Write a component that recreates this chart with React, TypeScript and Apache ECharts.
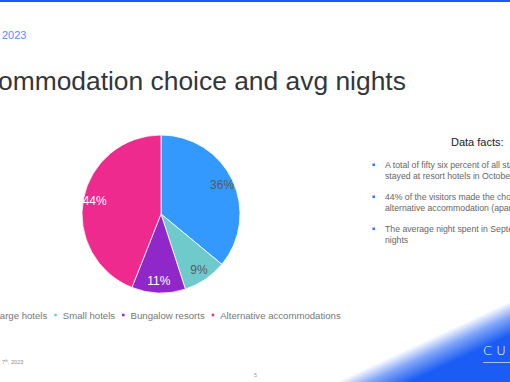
import React, { useEffect, useRef } from "react";
import * as echarts from "echarts";

const categories = ["Large hotels", "Small hotels", "Bungalow resorts", "Alternative accommodations"];
const shares = [36, 9, 11, 44];
const sliceColors = ["#3399FF", "#6FCBCB", "#9027C9", "#EE2A8E"];
const labelColors = ["#5a5a5a", "#5a5a5a", "#ffffff", "#ffffff"];

const titleText = "Accommodation choice and avg nights";
const factsTitle = "Data facts:";
const facts = [
  ["A total of fifty six percent of all stays", "stayed at resort hotels in October"],
  ["44% of the visitors made the choice of", "alternative accommodation (apartments)"],
  ["The average night spent in September was", "nights"],
];

const BLUE = "#1a5cf4";
const FONT = "'Liberation Sans', Arial, sans-serif";

export default function App() {
  const ref = useRef<HTMLDivElement>(null);
  useEffect(() => {
    if (!ref.current) return;
    const chart = echarts.init(ref.current, null, { renderer: "svg" });

    const factGraphics: any[] = [];
    const bulletY = [165, 197, 229];
    facts.forEach((lines, i) => {
      factGraphics.push({
        type: "rect",
        shape: { x: 372.5, y: bulletY[i] - 1.5, width: 2.5, height: 2.5 },
        style: { fill: "#3b6cf0" },
        silent: true,
      });
      factGraphics.push({
        type: "text",
        x: 385,
        y: bulletY[i] - 6,
        style: {
          text: lines.join("\n"),
          fontSize: 8.7,
          lineHeight: 11.5,
          fontFamily: FONT,
          fill: "#666666",
          verticalAlign: "top",
          align: "left",
        },
        silent: true,
      });
    });

    chart.setOption({
      animation: false,
      backgroundColor: "#ffffff",
      legend: {
        data: categories,
        left: -16,
        top: 310,
        padding: 0,
        icon: "rect",
        itemWidth: 4.5,
        itemHeight: 4.5,
        itemGap: 5,
        textStyle: { fontSize: 9.6, color: "#777777", fontFamily: FONT },
        selectedMode: false,
      },
      graphic: [
        {
          type: "rect",
          shape: { x: 0, y: 0, width: 510, height: 2 },
          style: { fill: BLUE },
          silent: true,
        },
        {
          type: "text",
          x: 2,
          y: 35,
          style: { text: "2023", fontSize: 11, fontFamily: FONT, fill: "#5b8cf0", verticalAlign: "middle" },
          silent: true,
        },
        {
          type: "text",
          x: -46,
          y: 81,
          style: { text: titleText, fontSize: 26.4, fontFamily: FONT, fill: "#33363b", verticalAlign: "middle" },
          silent: true,
        },
        {
          type: "text",
          x: 451,
          y: 142,
          style: { text: factsTitle, fontSize: 11, fontFamily: FONT, fill: "#222222", verticalAlign: "middle" },
          silent: true,
        },
        ...factGraphics,
        {
          type: "rect",
          shape: { x: 250, y: 280, width: 260, height: 102 },
          style: {
            fill: new echarts.graphic.LinearGradient(
              446, 331, 459, 359,
              [
                { offset: 0, color: "rgba(26,92,244,0)" },
                { offset: 0.45, color: "rgba(26,92,244,0.55)" },
                { offset: 1, color: "rgba(26,92,244,1)" },
              ],
              true
            ),
          },
          silent: true,
        },
        {
          type: "text",
          x: 483,
          y: 350,
          style: { text: "C U S", fontSize: 13, fontFamily: "'DejaVu Sans', sans-serif", fontWeight: "lighter", fill: "#ffffff", verticalAlign: "middle" },
          silent: true,
        },
        {
          type: "rect",
          shape: { x: 483, y: 362, width: 27, height: 0.8 },
          style: { fill: "rgba(255,255,255,0.8)" },
          silent: true,
        },
        {
          type: "text",
          x: 2,
          y: 362,
          style: {
            text: "{a|7}{b|th}{a|, 2023}",
            rich: {
              a: { fontSize: 5.5, fontFamily: FONT, fill: "#888888" },
              b: { fontSize: 3.5, fontFamily: FONT, fill: "#888888", verticalAlign: "top" },
            },
            verticalAlign: "middle",
          },
          silent: true,
        },
        {
          type: "text",
          x: 254,
          y: 375,
          style: { text: "5", fontSize: 5.5, fontFamily: FONT, fill: "#999999", verticalAlign: "middle" },
          silent: true,
        },
      ],
      series: [
        {
          type: "pie",
          center: [161, 214],
          radius: [0, 79],
          startAngle: 90,
          clockwise: true,
          silent: true,
          label: { show: false },
          labelLine: { show: false },
          itemStyle: { borderColor: "#ffffff", borderWidth: 0.8 },
          data: categories.map((name, i) => ({ name, value: shares[i], itemStyle: { color: sliceColors[i] } })),
        },
        {
          type: "pie",
          center: [161, 214],
          radius: [50, 79],
          startAngle: 90,
          clockwise: true,
          silent: true,
          legendHoverLink: false,
          itemStyle: { color: "rgba(0,0,0,0)", borderWidth: 0 },
          labelLine: { show: false },
          data: categories.map((name, i) => ({
            name,
            value: shares[i],
            label: {
              show: true,
              position: "inside",
              formatter: "{c}%",
              fontSize: 12,
              fontFamily: FONT,
              color: labelColors[i],
            },
          })),
        },
      ],
    });
    return () => chart.dispose();
  }, []);
  return (
    <div
      ref={ref}
      style={{ position: "fixed", left: 0, top: 0, width: 510, height: 382, background: "#ffffff" }}
    />
  );
}
